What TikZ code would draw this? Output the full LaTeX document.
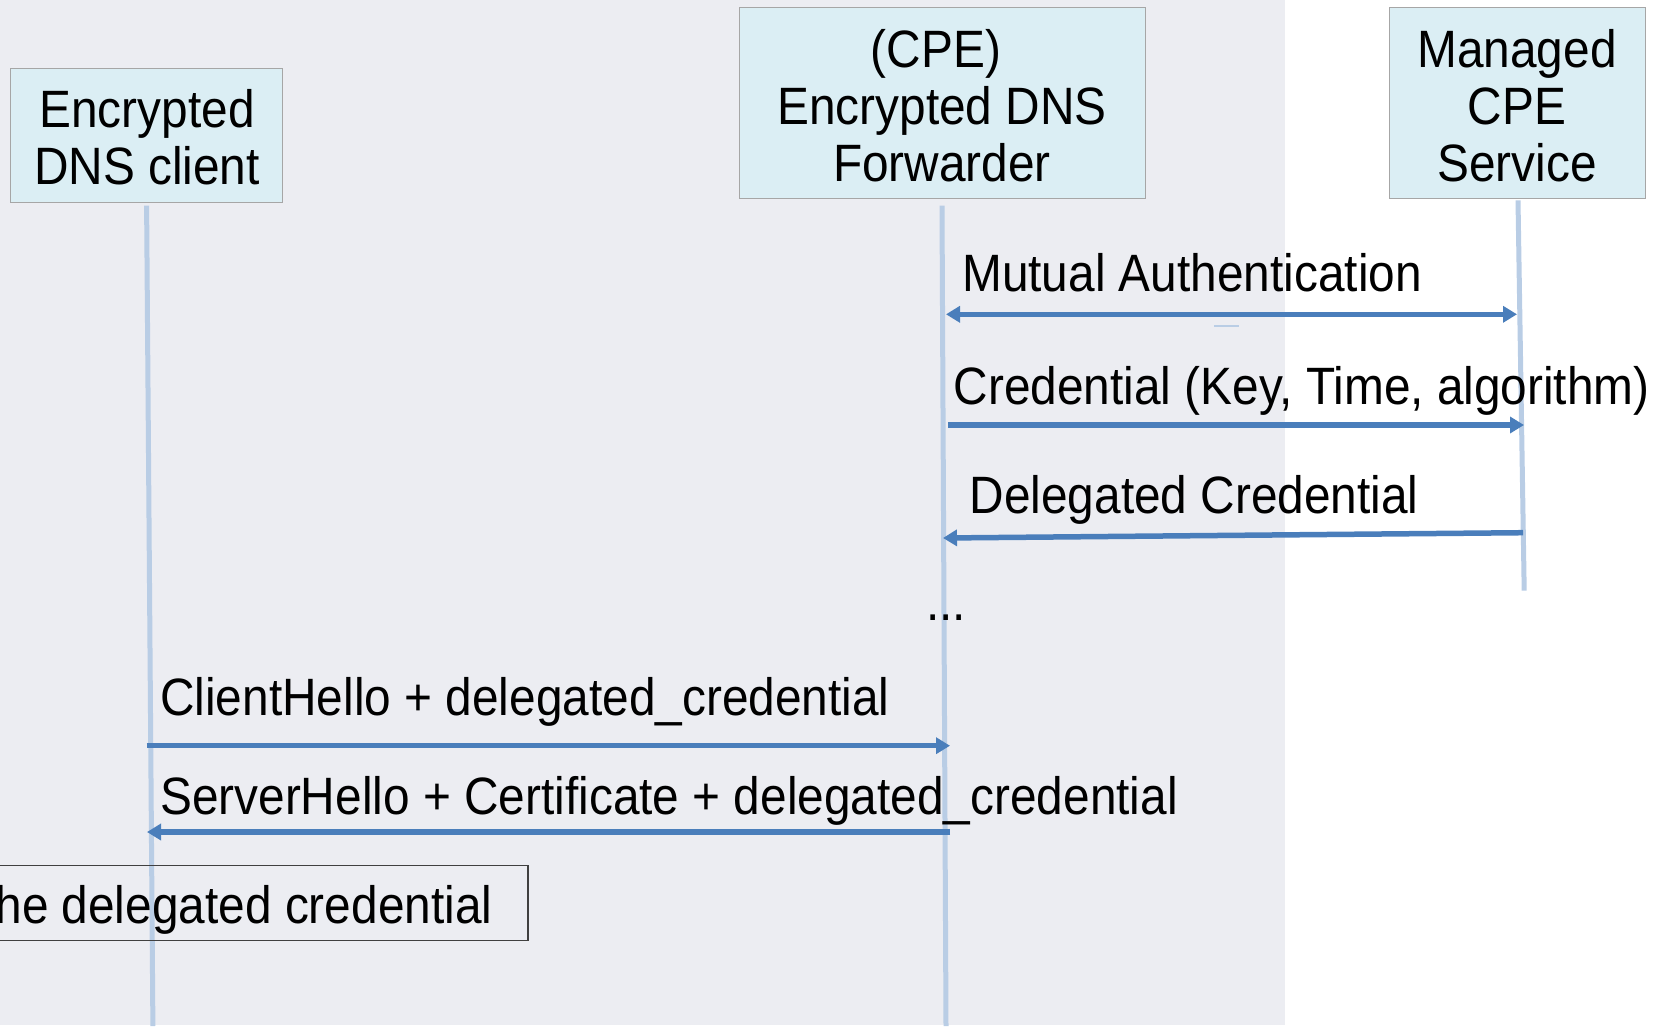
\documentclass[tikz,border=0pt]{standalone}
\usepackage{graphicx}
\usepackage{fontspec}
\setmainfont{Liberation Sans}
\usetikzlibrary{arrows.meta}
\definecolor{bggrey}{HTML}{ECEDF2}
\definecolor{boxfill}{HTML}{DBEEF4}
\definecolor{boxline}{HTML}{A6A6A6}
\definecolor{lifeblue}{HTML}{B9CDE5}
\definecolor{msgblue}{HTML}{4A7EBB}
\definecolor{noteline}{HTML}{404040}
\newcommand\ST[1]{\scalebox{1}[1.1]{#1}}
\begin{document}
\begin{tikzpicture}[x=1pt,y=-1pt,
  lbl/.style={font=\fontsize{47.8}{57}\selectfont, inner sep=0pt, text=black},
  actor/.style={draw=boxline, line width=1.2pt, fill=boxfill, inner sep=0pt},
  lifeline/.style={draw=lifeblue, line width=5pt},
  msg/.style={draw=msgblue, line width=5.5pt, -{Triangle[length=14pt,width=16pt]}},
  dmsg/.style={draw=msgblue, line width=5.5pt, {Triangle[length=14pt,width=16pt]}-{Triangle[length=14pt,width=16pt]}},
  notebox/.style={draw=noteline, line width=1.3pt, inner sep=0pt}]
\useasboundingbox (0,0) rectangle (1654,1028);
\fill[bggrey] (0,0) rectangle (1285,1025);

% actor boxes
\node[actor, minimum width=272pt, minimum height=134pt] (client) at (146.6,135.5) {};
\node[actor, minimum width=406pt, minimum height=191pt] (fwd) at (942.5,102.9) {};
\node[actor, minimum width=256pt, minimum height=191pt] (mgr) at (1517.4,102.9) {};

\node[lbl, anchor=base] (c1t) at (147,127.6) {\ST{Encrypted}};
\node[lbl, anchor=base] (c2t) at (147,184.6) {\ST{DNS client}};
\node[lbl, anchor=base] (f1t) at (936,67.5) {\ST{(CPE)}};
\node[lbl, anchor=base] (f2t) at (942,124) {\ST{Encrypted DNS}};
\node[lbl, anchor=base] (f3t) at (942,181.4) {\ST{Forwarder}};
\node[lbl, anchor=base] (m1t) at (1517,67.5) {\ST{Managed}};
\node[lbl, anchor=base] (m2t) at (1517,124) {\ST{CPE}};
\node[lbl, anchor=base] (m3t) at (1517,181.4) {\ST{Service}};

% lifelines
\coordinate (l1top) at (146.6,205.7);
\coordinate (l1bot) at (152.9,1026);
\coordinate (l2top) at (942,205.7);
\coordinate (l2bot) at (946,1026);
\coordinate (l3top) at (1518,200.4);
\coordinate (l3bot) at (1524.2,590.7);
\draw[lifeline] (l1top) -- (l1bot);
\draw[lifeline] (l2top) -- (l2bot);
\draw[lifeline] (l3top) -- (l3bot);

% note box (left part outside the picture)
\node[notebox, anchor=north east, minimum width=560pt, minimum height=75pt] (note) at (528.5,865) {};
\node[lbl, anchor=base east] (notet) at (492.6,923) {\ST{he delegated credential}};

% messages
\coordinate (ma1) at (946,314.3);
\coordinate (ma2) at (1517,314.3);
\draw[dmsg] (ma1) -- (ma2);
\node[lbl, anchor=base west] (mat) at (962,291) {\ST{Mutual Authentication}};
\coordinate (dash1) at (1214,326);
\coordinate (dash2) at (1239,326);
\draw[lifeblue, line width=2pt] (dash1) -- (dash2);

\coordinate (cr1) at (948,425);
\coordinate (cr2) at (1524,425);
\draw[msg] (cr1) -- (cr2);
\node[lbl, anchor=base west] (crt) at (953.5,404) {\ST{Credential (Key, Time, algorithm)}};

\coordinate (dc1) at (1523,532.7);
\coordinate (dc2) at (943,538);
\draw[msg] (dc1) -- (dc2);
\node[lbl, anchor=base west] (dct) at (969.4,513.7) {\ST{Delegated Credential}};

\node[lbl, anchor=base] (dots) at (946,620) {\ST{...}};

\coordinate (ch1) at (146.6,745.7);
\coordinate (ch2) at (950,745.7);
\draw[msg] (ch1) -- (ch2);
\node[lbl, anchor=base west] (cht) at (160,715) {\ST{ClientHello + delegated\_credential}};

\coordinate (sh1) at (950,832);
\coordinate (sh2) at (147,832);
\draw[msg] (sh1) -- (sh2);
\node[lbl, anchor=base west] (sht) at (160,814) {\ST{ServerHello + Certificate + delegated\_credential}};
\end{tikzpicture}
\end{document}
